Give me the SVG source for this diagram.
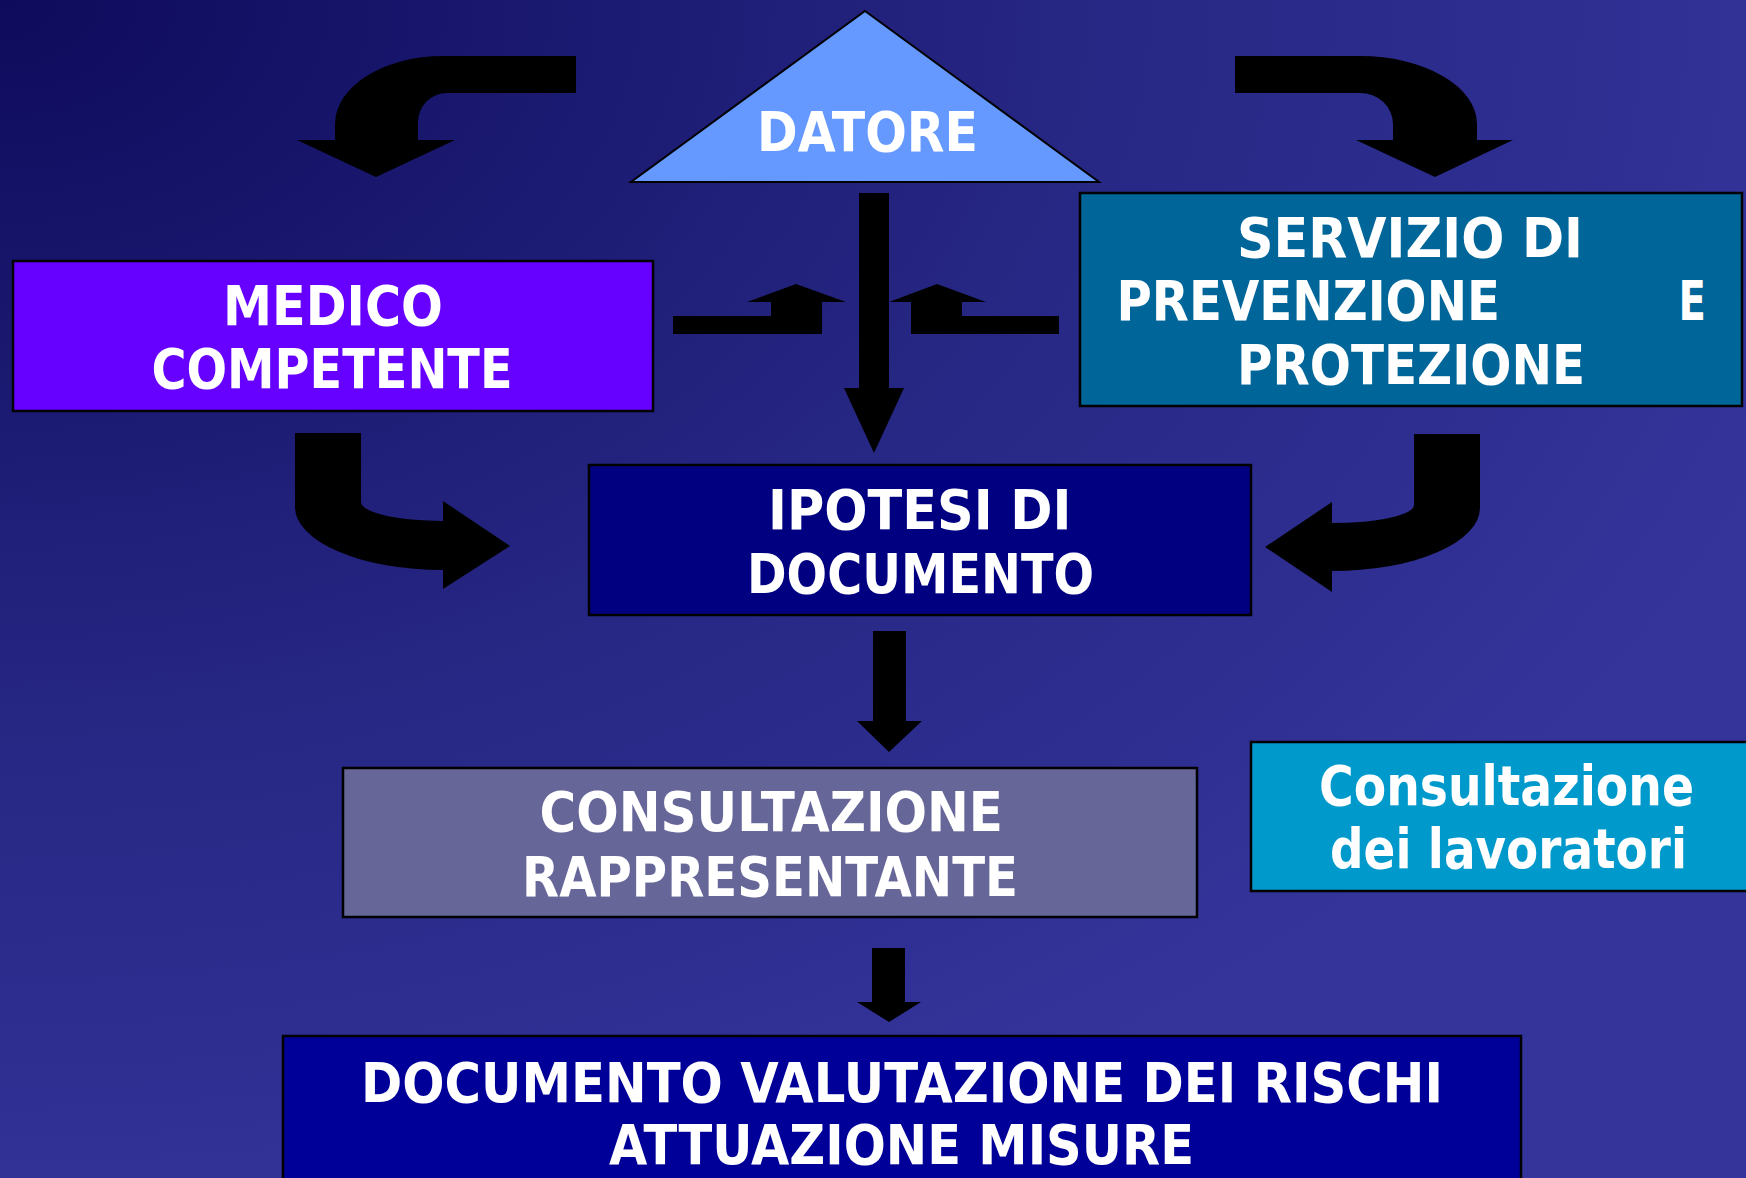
<svg xmlns="http://www.w3.org/2000/svg" width="1746" height="1178" viewBox="0 0 1746 1178">
<defs>
<radialGradient id="bg" cx="0" cy="0" r="1.1" fx="0" fy="0" gradientUnits="objectBoundingBox">
<stop offset="0" stop-color="#0e0b5c"/>
<stop offset="0.55" stop-color="#262683"/>
<stop offset="1" stop-color="#34349b"/>
</radialGradient>
<style>
.box{stroke:#000;stroke-width:2.5}
.t{font-family:"DejaVu Sans","Liberation Sans",sans-serif;font-weight:bold;fill:#fff;font-size:55px}
.a{fill:#000}
</style>
</defs>
<rect x="0" y="0" width="1746" height="1178" fill="url(#bg)"/>

<g id="connectors">
<path class="a" d="M576,56 L443,56 A108,68 0 0 0 335,124 L335,140 L297,140 L376,177 L455,140 L418,140 L418,122 A29,29 0 0 1 447,93 L576,93 Z"/>
<path class="a" d="M1235,56 L1360,56 A117,68 0 0 1 1477,124 L1477,140 L1513,140 L1435,177 L1356,140 L1393,140 L1393,124 A33,31 0 0 0 1360,93 L1235,93 Z"/>
<path class="a" d="M295,433 L361,433 L361,502 A82,19 0 0 0 443,521 L443,501 L510,546 L443,589 L443,570 A148,63 0 0 1 295,507 Z"/>
<path class="a" d="M1480,434 L1414,434 L1414,505 A82,18 0 0 1 1332,523 L1332,502 L1265,547 L1332,592 L1332,571 A148,63 0 0 0 1480,508 Z"/>
<path class="a" d="M859,193 L889,193 L889,388 L904,388 L874,453 L844,388 L859,388 Z"/>
<path class="a" d="M673,316 L771,316 L771,302 L747,302 L796,284 L846,302 L822,302 L822,334 L673,334 Z"/>
<path class="a" d="M1059,316 L962,316 L962,302 L986,302 L937,284 L889,302 L911,302 L911,334 L1059,334 Z"/>
<path class="a" d="M873,631 L906,631 L906,721 L922,721 L889,752 L857,721 L873,721 Z"/>
<path class="a" d="M872,948 L905,948 L905,1002 L921,1002 L889,1022 L857,1002 L872,1002 Z"/>
</g>

<g id="datore">
<polygon points="865,11 1099,182 631,182" fill="#6699ff" stroke="#000" stroke-width="2"/>
<text class="t" x="757" y="151" textLength="221" lengthAdjust="spacingAndGlyphs">DATORE</text>
</g>

<g id="medico">
<rect class="box" x="13" y="261" width="640" height="150" fill="#6600ff"/>
<text class="t" x="223" y="325" textLength="220" lengthAdjust="spacingAndGlyphs">MEDICO</text>
<text class="t" x="151.5" y="388" textLength="361" lengthAdjust="spacingAndGlyphs">COMPETENTE</text>
</g>

<g id="servizio">
<rect class="box" x="1080" y="193" width="662" height="213" fill="#006699"/>
<text class="t" x="1237" y="257" textLength="346" lengthAdjust="spacingAndGlyphs">SERVIZIO DI</text>
<text class="t" x="1116.5" y="320" textLength="383.5" lengthAdjust="spacingAndGlyphs">PREVENZIONE</text>
<text class="t" x="1678.6" y="320" textLength="27.4" lengthAdjust="spacingAndGlyphs">E</text>
<text class="t" x="1237" y="384" textLength="348" lengthAdjust="spacingAndGlyphs">PROTEZIONE</text>
</g>

<g id="ipotesi">
<rect class="box" x="589" y="465" width="662" height="150" fill="#000080"/>
<text class="t" x="768" y="529" textLength="303.5" lengthAdjust="spacingAndGlyphs">IPOTESI DI</text>
<text class="t" x="747" y="593" textLength="347" lengthAdjust="spacingAndGlyphs">DOCUMENTO</text>
</g>

<g id="consultazione-rappresentante">
<rect class="box" x="343" y="768" width="854" height="149" fill="#666699"/>
<text class="t" x="539.5" y="831" textLength="463.5" lengthAdjust="spacingAndGlyphs">CONSULTAZIONE</text>
<text class="t" x="522" y="896" textLength="496" lengthAdjust="spacingAndGlyphs">RAPPRESENTANTE</text>
</g>

<g id="consultazione-lavoratori">
<rect class="box" x="1251" y="742" width="497" height="149" fill="#0099cc"/>
<text class="t" x="1319" y="805" font-size="53" textLength="375" lengthAdjust="spacingAndGlyphs">Consultazione</text>
<text class="t" x="1330" y="868" font-size="53" textLength="357" lengthAdjust="spacingAndGlyphs">dei lavoratori</text>
</g>

<g id="documento-valutazione">
<rect class="box" x="283" y="1036" width="1238" height="160" fill="#000099"/>
<text class="t" x="361" y="1102" textLength="1082" lengthAdjust="spacingAndGlyphs">DOCUMENTO VALUTAZIONE DEI RISCHI</text>
<text class="t" x="609" y="1164" textLength="585" lengthAdjust="spacingAndGlyphs">ATTUAZIONE MISURE</text>
</g>
</svg>
